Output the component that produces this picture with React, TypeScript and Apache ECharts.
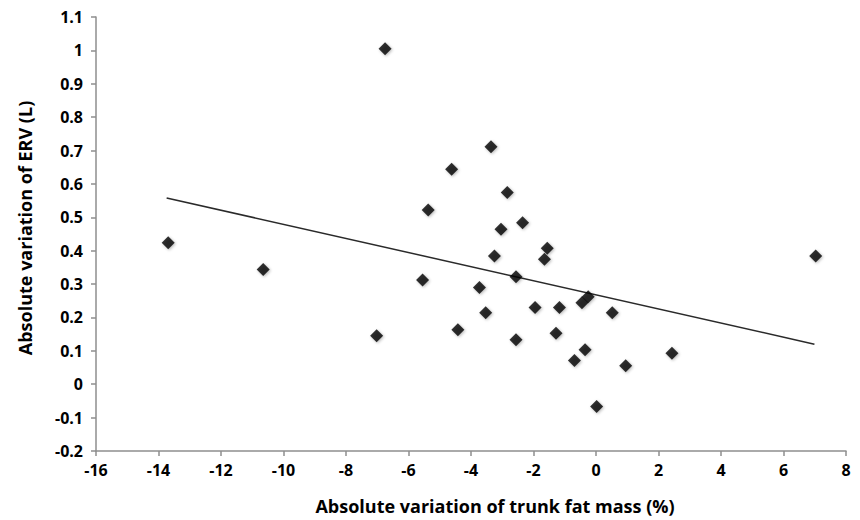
import React, { useEffect, useRef } from "react";
import * as echarts from "echarts";

const xValues = [-13.69, -10.65, -7.02, -6.75, -5.55, -5.37, -4.62, -4.42, -3.73, -3.53, -3.36, -3.25, -3.04, -2.84, -2.56, -2.56, -2.35, -1.95, -1.65, -1.56, -1.28, -1.17, -0.69, -0.45, -0.35, -0.25, 0.02, 0.52, 0.95, 2.43, 7.03];
const yValues = [0.424, 0.344, 0.145, 1.005, 0.312, 0.522, 0.644, 0.163, 0.29, 0.214, 0.711, 0.384, 0.464, 0.574, 0.322, 0.133, 0.484, 0.23, 0.374, 0.407, 0.153, 0.23, 0.071, 0.244, 0.103, 0.262, -0.067, 0.214, 0.055, 0.093, 0.384];
const trendX = [-13.74, 6.99];
const trendY = [0.558, 0.12];
const xTitle = "Absolute variation of trunk fat mass (%)";
const yTitle = "Absolute variation of ERV (L)";

const FONT = "'Open Sans', sans-serif";

export default function App() {
  const ref = useRef<HTMLDivElement>(null);
  useEffect(() => {
    document.body.style.margin = "0";
    const chart = echarts.init(ref.current!, null, { renderer: "svg" });
    const axisColor = "#8e8e8e";
    chart.setOption({
      animation: false,
      backgroundColor: "#ffffff",
      grid: { left: 96, right: 14, top: 17, bottom: 69, containLabel: false },
      xAxis: {
        type: "value",
        min: -16,
        max: 8,
        interval: 2,
        splitLine: { show: false },
        axisLine: { show: true, onZero: false, lineStyle: { color: axisColor, width: 1.5 } },
        axisTick: { show: true, inside: false, length: 5, lineStyle: { color: axisColor, width: 1.5 } },
        axisLabel: { margin: 11, color: "#000", fontFamily: FONT, fontWeight: "bold", fontSize: 16 },
      },
      yAxis: {
        type: "value",
        min: -0.2,
        max: 1.1,
        interval: 0.1,
        splitLine: { show: false },
        axisLine: { show: true, onZero: false, lineStyle: { color: axisColor, width: 1.5 } },
        axisTick: { show: true, inside: false, length: 5, lineStyle: { color: axisColor, width: 1.5 } },
        axisLabel: {
          margin: 13,
          color: "#000",
          fontFamily: FONT,
          fontWeight: "bold",
          fontSize: 16,
          formatter: (v: number) => String(parseFloat(v.toFixed(1))),
        },
      },
      graphic: [
        {
          type: "text",
          x: 495,
          y: 506,
          style: {
            text: xTitle,
            fill: "#000",
            font: `bold 18px ${FONT}`,
            textAlign: "center",
            textVerticalAlign: "middle",
          },
        },
        {
          type: "text",
          x: 25,
          y: 228,
          rotation: Math.PI / 2,
          style: {
            text: yTitle,
            fill: "#000",
            font: `bold 18px ${FONT}`,
            textAlign: "center",
            textVerticalAlign: "middle",
          },
        },
      ],
      series: [
        {
          type: "line",
          data: trendX.map((x, i) => [x, trendY[i]]),
          showSymbol: false,
          symbol: "none",
          lineStyle: { color: "#2a2a2a", width: 1.5 },
          z: 1,
        },
        {
          type: "scatter",
          data: xValues.map((x, i) => [x, yValues[i]]),
          symbol: "diamond",
          symbolSize: 13,
          itemStyle: { color: "#000", shadowColor: "rgba(0,0,0,0.35)", shadowBlur: 3, shadowOffsetX: 1, shadowOffsetY: 1 },
          z: 2,
        },
      ],
    });
    return () => chart.dispose();
  }, []);
  return <div ref={ref} style={{ width: 860, height: 520 }} />;
}
